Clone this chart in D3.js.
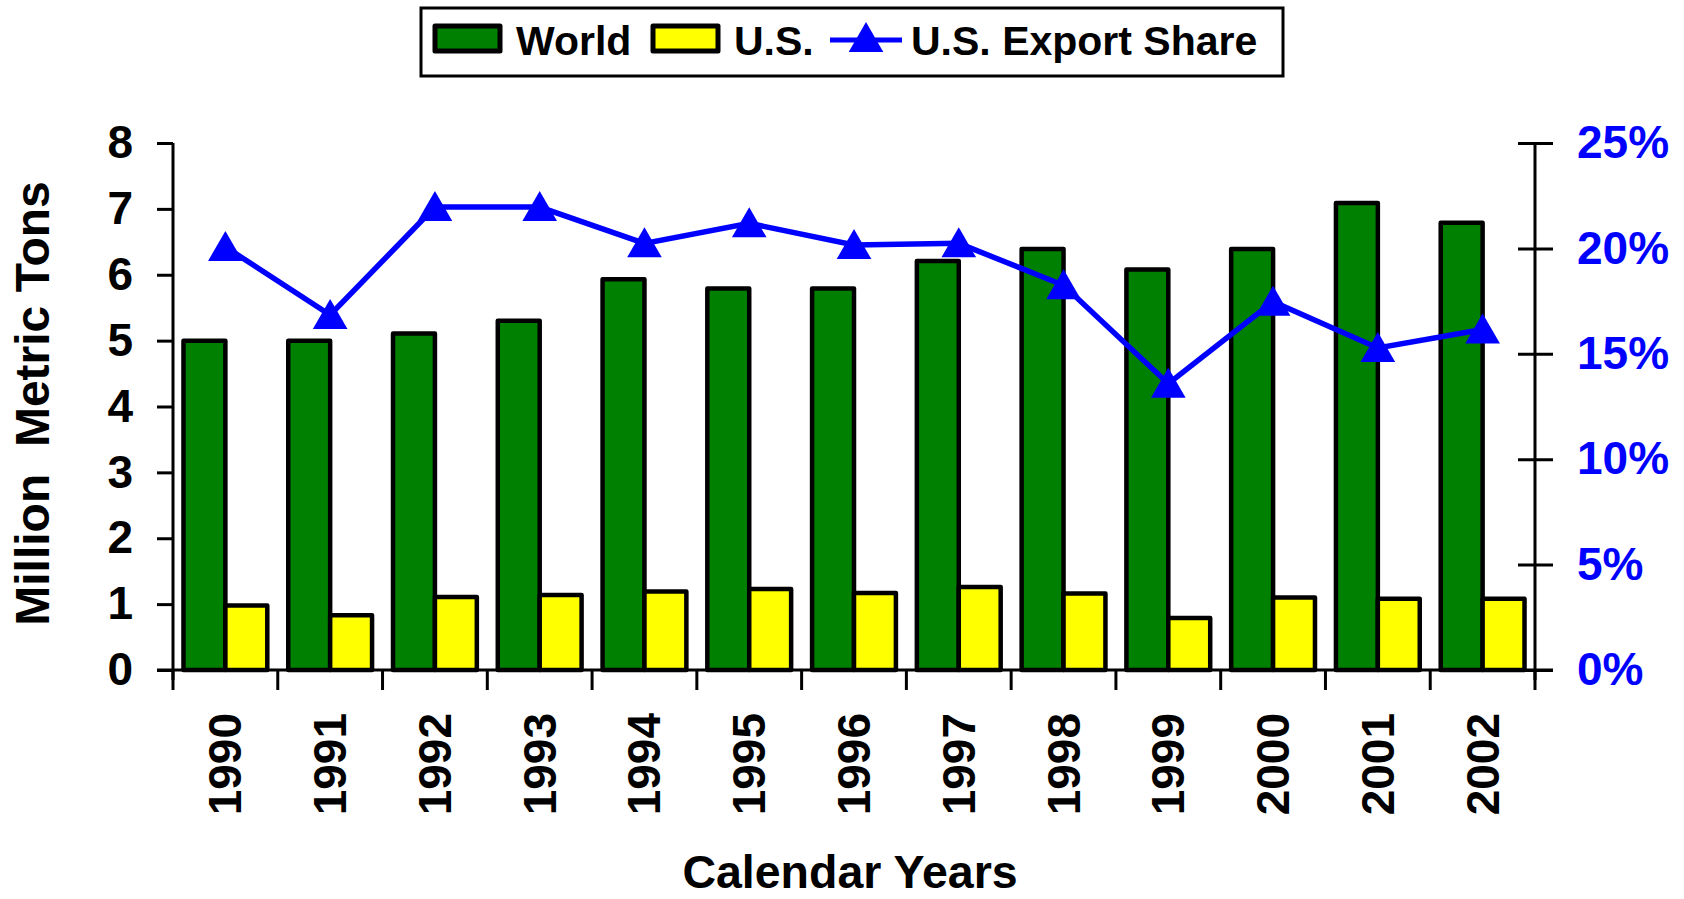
<!DOCTYPE html>
<html>
<head>
<meta charset="utf-8">
<script src="https://cdnjs.cloudflare.com/ajax/libs/d3/7.8.5/d3.min.js"></script>
<style>
  body { margin: 0; background: #fff; }
  svg { display: block; }
  text { font-family: "Liberation Sans", Arial, sans-serif; font-weight: bold; }
</style>
</head>
<body>
<svg width="1684" height="899"></svg>
<script>
// data
const years = ['1990', '1991', '1992', '1993', '1994', '1995', '1996', '1997', '1998', '1999', '2000', '2001', '2002']
const world = [5.0, 5.0, 5.11, 5.3, 5.93, 5.79, 5.79, 6.21, 6.39, 6.08, 6.39, 7.09, 6.79]
const us = [0.98, 0.83, 1.11, 1.14, 1.19, 1.23, 1.17, 1.26, 1.16, 0.79, 1.10, 1.08, 1.08]
const exportShare = [0.2007, 0.1684, 0.2196, 0.2196, 0.2024, 0.2119, 0.2016, 0.2024, 0.1825, 0.1358, 0.1747, 0.1528, 0.1615]
const leftTicks = [0, 1, 2, 3, 4, 5, 6, 7, 8]
const rightTicks = [0, 0.05, 0.10, 0.15, 0.20, 0.25]
const seriesNames = ['World', 'U.S.', 'U.S. Export Share']
const seriesColors = ['#008000', '#FFFF00', '#0000FF']

let svg = d3.select('svg'),
    margin = {top: 143, bottom: 229, left: 173, right: 149},
    width = svg.attr('width') - margin.left - margin.right,
    height = svg.attr('height') - margin.top - margin.bottom

let xScale = d3.scaleBand().domain(years).range([margin.left, margin.left + width]),
    subScale = d3.scaleBand().domain(['World', 'U.S.']).range([0, xScale.bandwidth()]).paddingOuter(0.25),
    yScale = d3.scaleLinear().domain([0, 8]).range([margin.top + height, margin.top]),
    y2Scale = d3.scaleLinear().domain([0, 0.25]).range([margin.top + height, margin.top])

let table = years.map((y, i) => ({year: y, world: world[i], us: us[i], share: exportShare[i]}))
let baseY = margin.top + height

//bars
let groups = svg.append('g').selectAll('g')
    .data(table)
    .enter()
    .append('g')
    .attr('transform', d => 'translate(' + xScale(d.year) + ',0)')
groups.append('rect')
    .attr('x', subScale('World'))
    .attr('y', d => yScale(d.world))
    .attr('width', subScale.bandwidth())
    .attr('height', d => baseY - yScale(d.world))
    .attr('fill', seriesColors[0])
groups.append('rect')
    .attr('x', subScale('U.S.'))
    .attr('y', d => yScale(d.us))
    .attr('width', subScale.bandwidth())
    .attr('height', d => baseY - yScale(d.us))
    .attr('fill', seriesColors[1])
groups.selectAll('rect')
    .attr('stroke', '#000')
    .attr('stroke-width', 4.5)
    .attr('stroke-linejoin', 'round')

//left axis
let leftAxis = svg.append('g')
    .attr('transform', 'translate(' + margin.left + ',0)')
    .call(d3.axisLeft(yScale).tickValues(leftTicks).tickSize(16).tickPadding(24))
leftAxis.select('.domain').remove()
leftAxis.append('line')
    .attr('x1', 0).attr('x2', 0)
    .attr('y1', margin.top).attr('y2', baseY + 10)
    .attr('stroke', '#000').attr('stroke-width', 3)

//right axis
let rightAxis = svg.append('g')
    .attr('transform', 'translate(' + (margin.left + width) + ',0)')
    .call(d3.axisRight(y2Scale).tickValues(rightTicks).tickFormat(d3.format('.0%')).tickSize(18).tickPadding(24))
rightAxis.select('.domain').remove()
rightAxis.append('line')
    .attr('x1', 0).attr('x2', 0)
    .attr('y1', margin.top).attr('y2', baseY + 10)
    .attr('stroke', '#000').attr('stroke-width', 3)
rightAxis.selectAll('.tick line').attr('x1', -17)
rightAxis.selectAll('text').attr('fill', '#0000FF')

//x axis: ticks between categories, labels rotated
let xAxis = svg.append('g')
    .attr('transform', 'translate(0,' + baseY + ')')
xAxis.append('line')
    .attr('x1', margin.left - 16).attr('x2', margin.left + width + 18)
    .attr('stroke', '#000').attr('stroke-width', 3)
xAxis.selectAll('.sep')
    .data(years.concat(['end']))
    .enter()
    .append('line')
    .attr('x1', (d, i) => i < years.length ? xScale(d) : margin.left + width)
    .attr('x2', (d, i) => i < years.length ? xScale(d) : margin.left + width)
    .attr('y1', 0).attr('y2', 20)
    .attr('stroke', '#000').attr('stroke-width', 3)
xAxis.selectAll('.yr')
    .data(years)
    .enter()
    .append('text')
    .attr('transform', d => 'translate(' + (xScale(d) + xScale.bandwidth() / 2 + 16) + ',43) rotate(-90)')
    .attr('text-anchor', 'end')
    .attr('font-size', 46)
    .text(d => d)

svg.selectAll('.tick text').attr('font-size', 46).attr('font-family', null)
svg.selectAll('.tick line').attr('stroke', '#000').attr('stroke-width', 3)

//export share line
let line = d3.line()
    .x(d => xScale(d.year) + xScale.bandwidth() / 2)
    .y(d => y2Scale(d.share))
svg.append('path')
    .datum(table)
    .attr('d', line)
    .attr('fill', 'none')
    .attr('stroke', seriesColors[2])
    .attr('stroke-width', 5.5)
let tri = d3.symbol().type(d3.symbolTriangle).size(520)
svg.selectAll('.marker')
    .data(table)
    .enter()
    .append('path')
    .attr('d', tri)
    .attr('transform', d => 'translate(' + (xScale(d.year) + xScale.bandwidth() / 2) + ',' + (y2Scale(d.share) + 4) + ')')
    .attr('fill', seriesColors[2])

//axis titles
svg.append('text')
    .attr('text-anchor', 'middle')
    .attr('x', 850)
    .attr('y', 888)
    .attr('font-size', 46.5)
    .text('Calendar Years')
svg.append('text')
    .attr('text-anchor', 'middle')
    .attr('transform', 'translate(49,' + (margin.top + height / 2 - 3) + ') rotate(-90)')
    .attr('font-size', 48)
    .style('white-space', 'pre')
    .text('Million  Metric Tons')

//legend
let legend = svg.append('g')
legend.append('rect')
    .attr('x', 421).attr('y', 8).attr('width', 862).attr('height', 68)
    .attr('fill', '#fff').attr('stroke', '#000').attr('stroke-width', 3)
let legX = [435, 653, 830]
let textX = [516, 734, 911]
seriesNames.forEach((name, i) => {
    if (i < 2) {
        legend.append('rect')
            .attr('x', legX[i]).attr('y', 26).attr('width', 65).attr('height', 25)
            .attr('fill', seriesColors[i]).attr('stroke', '#000').attr('stroke-width', 5)
            .attr('stroke-linejoin', 'round')
    } else {
        legend.append('line')
            .attr('x1', legX[i]).attr('x2', legX[i] + 72).attr('y1', 40).attr('y2', 40)
            .attr('stroke', seriesColors[i]).attr('stroke-width', 5)
        legend.append('path')
            .attr('d', tri)
            .attr('transform', 'translate(' + (legX[i] + 36) + ',42)')
            .attr('fill', seriesColors[i])
    }
    legend.append('text')
        .attr('x', textX[i]).attr('y', 55)
        .attr('font-size', 41)
        .text(name)
})
</script>
</body>
</html>
